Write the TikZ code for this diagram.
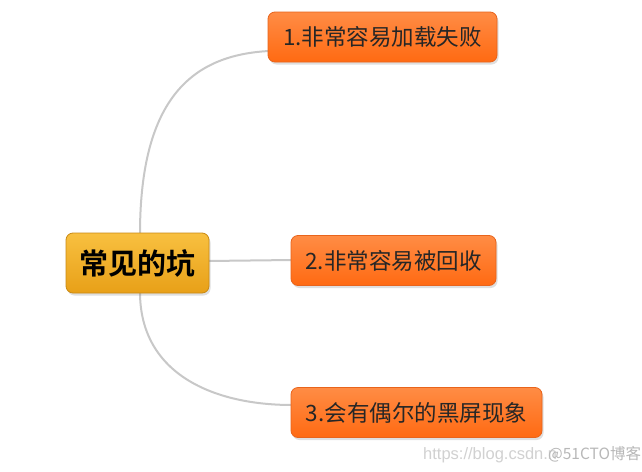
\documentclass[tikz,border=0pt]{standalone}
\usepackage{fontspec}
\setmainfont{Liberation Sans}
\newfontfamily\cjk{Noto Sans CJK SC}
\newfontfamily\cjkb{Noto Sans CJK SC Bold}
\usetikzlibrary{shadows}
\definecolor{obot}{HTML}{FF6A12}
\definecolor{otop}{HTML}{FF8C45}
\definecolor{oline}{HTML}{E8641C}
\definecolor{ytop}{HTML}{F8C040}
\definecolor{ybot}{HTML}{E8A018}
\definecolor{yline}{HTML}{C98A14}
\definecolor{conn}{HTML}{C8C8C8}
\tikzset{
  leaf/.style={draw=oline, line width=0.8pt, rounded corners=7pt, top color=otop, bottom color=obot,
    minimum height=50pt, inner xsep=10pt, font=\cjk\fontsize{22.5}{25}\selectfont, text=black!85,
    drop shadow={shadow xshift=1.5pt, shadow yshift=-2.5pt, opacity=0.25}},
  rootbox/.style={draw=yline, line width=0.8pt, rounded corners=7pt, top color=ytop, bottom color=ybot,
    minimum width=143pt, minimum height=60pt, font=\cjkb\fontsize{29}{32}\selectfont, text=black,
    drop shadow={shadow xshift=1.5pt, shadow yshift=-2.5pt, opacity=0.25}},
  link/.style={draw=conn, line width=2pt},
  wm/.style={text=black!18, font=\fontsize{16.5}{19}\selectfont, anchor=base west, inner sep=0pt}
}
\begin{document}
\begin{tikzpicture}[x=1pt,y=-1pt]
\useasboundingbox (0,0) rectangle (642,471);
\fill[white] (0,0) rectangle (642,471);
\coordinate (s1) at (140,234);
\coordinate (e1) at (269,51);
\coordinate (s3) at (140,292);
\coordinate (e3) at (292,405);
\draw[link] (s1) .. controls (140,95) and (195,55) .. (e1);
\draw[link] (s3) .. controls (140,375) and (215,405) .. (e3);
\coordinate (s2) at (208,261);
\coordinate (e2) at (292,260);
\draw[link] (s2) -- (e2);
\node[rootbox] (root) at (137.5,263) {常见的坑};
\node[leaf, minimum width=229pt] (n1) at (382.5,37) {1.非常容易加载失败};
\node[leaf, minimum width=205pt] (n2) at (393.5,260.5) {2.非常容易被回收};
\node[leaf, minimum width=251pt] (n3) at (416.5,412.5) {3.会有偶尔的黑屏现象};
\node[wm] (w1) at (423,459) {https://blog.csdn.n};
\node[wm, font=\cjk\fontsize{15.5}{18}\selectfont, text=black!28] (w2) at (548,459) {@51CTO博客};
\end{tikzpicture}
\end{document}
